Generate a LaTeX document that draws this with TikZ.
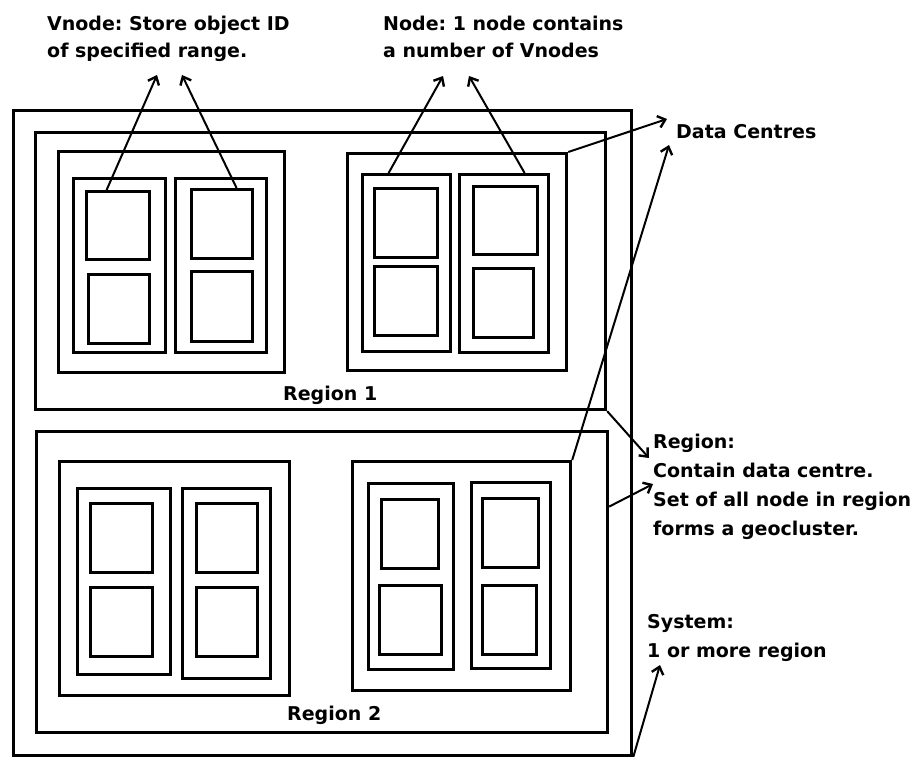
\documentclass[tikz,border=0pt]{standalone}
\usepackage{fontspec}
\setmainfont{DejaVu Sans}
\usetikzlibrary{arrows.meta}
\frenchspacing
\tikzset{>={Straight Barb[length=7pt,width=12pt,line width=2.4pt]}}
\tikzset{
  box/.style={draw, line width=3.2pt, inner sep=0pt, anchor=north west},
  note/.style={anchor=base west, align=left, inner sep=0pt, font=\bfseries\fontsize{19}{27}\selectfont},
  widenote/.style={note, font=\bfseries\fontsize{19}{29}\selectfont},
  pointer/.style={->, line width=2pt},
}
% box from top left (#2,#3) to bottom right (#4,#5)
\newcommand{\bx}[5]{\node[box, minimum width=#4pt-#2pt, minimum height=#5pt-#3pt] (#1) at (#2,#3) {};}

\begin{document}
\begin{tikzpicture}[x=1pt, y=-1pt]
\useasboundingbox (0,0) rectangle (920,756);
% system and regions
\bx{sys}{12}{109}{630}{754}
\bx{reg1}{34}{131}{604}{408}
\bx{reg2}{35}{430}{606}{731}
\node[note] (lreg1) at (283,400) {Region 1};
\node[note] (lreg2) at (287,720) {Region 2};
% data centres
\bx{dc11}{57}{150}{283}{371}
\bx{dc12}{346}{152}{565}{369}
\bx{dc21}{58}{460}{288}{694}
\bx{dc22}{351}{460}{569}{689}
% nodes
\bx{n111}{72}{177}{164}{351}
\bx{n112}{174}{177}{265}{351}
\bx{n121}{361}{173}{449}{350}
\bx{n122}{458}{173}{547}{351}
\bx{n211}{76}{487}{169}{673}
\bx{n212}{181}{487}{269}{677}
\bx{n221}{367}{482}{452}{668}
\bx{n222}{470}{481}{549}{667}
% vnodes
\bx{v1111}{85}{190}{148}{258}
\bx{v1112}{87}{273}{148}{342}
\bx{v1121}{190}{188}{251}{257}
\bx{v1122}{190}{270}{251}{340}
\bx{v1211}{373}{187}{436}{256}
\bx{v1212}{373}{265}{436}{334}
\bx{v1221}{472}{185}{536}{253}
\bx{v1222}{472}{267}{532}{336}
\bx{v2111}{89}{502}{151}{571}
\bx{v2112}{89}{586}{151}{655}
\bx{v2121}{195}{502}{256}{571}
\bx{v2122}{195}{586}{256}{655}
\bx{v2211}{380}{498}{437}{567}
\bx{v2212}{378}{584}{440}{653}
\bx{v2221}{481}{497}{537}{566}
\bx{v2222}{481}{584}{535}{653}
% notes (base is the last line)
\node[note] (tvnode) at (47,57) {Vnode: Store object ID\\of specified range.};
\node[note] (tnode) at (383,57) {Node: 1 node contains\\a number of Vnodes};
\node[note] (tdc) at (676,138) {Data Centres};
\node[widenote] (treg) at (653,535) {Region:\\Contain data centre.\\Set of all node in region\\forms a geocluster.};
\node[widenote] (tsys) at (647,657) {System:\\1 or more region};
\coordinate (vt1) at (157,75);
\coordinate (vt2) at (182,75);
\coordinate (nt1) at (443,76);
\coordinate (nt2) at (469,76);
\coordinate (dt1) at (667,119);
\coordinate (dt2) at (669,145);
\coordinate (rt1) at (649,458);
\coordinate (rt2) at (653,484);
\coordinate (st) at (660,665);
% pointers
\draw[pointer] ([xshift=-11.5pt]v1111.north) -- (vt1);
\draw[pointer] ([xshift=14.5pt]v1121.north) -- (vt2);
\draw[pointer] ([xshift=-18pt]n121.north) -- (nt1);
\draw[pointer] ([xshift=20.5pt]n122.north) -- (nt2);
\draw[pointer] (dc12.north east) -- (dt1);
\draw[pointer] (dc22.north east) -- (dt2);
\draw[pointer] (reg1.south east) -- (rt1);
\draw[pointer] ([yshift=75.5pt]reg2.east) -- (rt2);
\draw[pointer] (sys.south east) -- (st);
\end{tikzpicture}
\end{document}
